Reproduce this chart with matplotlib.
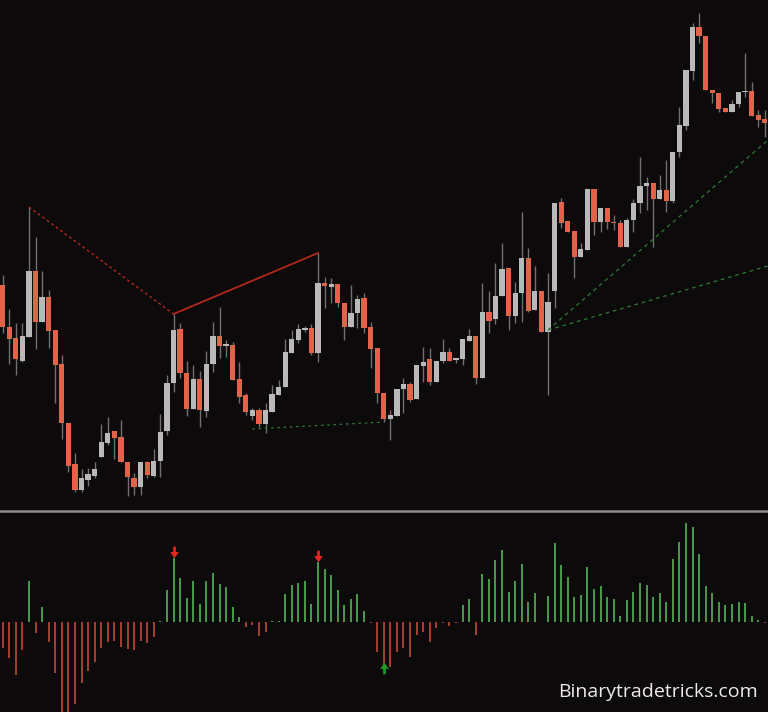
import matplotlib
matplotlib.use("Agg")
import matplotlib.pyplot as plt
from matplotlib.lines import Line2D
from matplotlib.path import Path
import numpy as np

# candle data (arbitrary price units)
opens = [235, 193, 182, 159, 183, 249, 198, 223, 190, 156, 97, 56, 30, 40, 44, 63, 77, 89, 83, 58,
         42, 33, 58, 44, 59, 89, 137, 191, 147, 111, 141, 109, 156, 184, 174, 175, 141, 125, 104, 110,
         96, 108, 125, 133, 167, 180, 190, 192, 167, 237, 233, 236, 217, 193, 207, 222, 193, 172, 127, 101,
         104, 131, 136, 121, 154, 161, 138, 159, 168, 160, 161, 179, 184, 142, 208, 201, 224, 252, 204, 227,
         262, 210, 229, 188, 229, 318, 299, 289, 263, 270, 331, 298, 312, 298, 297, 273, 300, 317, 334, 337,
         321, 330, 319, 368, 394, 449, 493, 484, 430, 427, 412, 408, 416, 428, 429, 405, 401]
highs = [245, 211, 197, 197, 313, 283, 249, 230, 190, 165, 97, 67, 51, 52, 58, 96, 103, 89, 100, 58,
         47, 58, 59, 71, 106, 145, 206, 197, 159, 155, 149, 169, 198, 213, 180, 178, 158, 127, 112, 112,
         117, 135, 140, 181, 190, 196, 194, 196, 267, 243, 242, 236, 217, 235, 225, 227, 198, 172, 127, 110,
         131, 142, 138, 155, 173, 172, 159, 181, 172, 162, 181, 191, 184, 237, 229, 257, 277, 252, 238, 308,
         272, 254, 229, 247, 317, 322, 299, 289, 277, 331, 331, 312, 312, 305, 300, 302, 321, 363, 343, 337,
         345, 360, 368, 413, 450, 497, 507, 484, 430, 427, 412, 420, 428, 467, 438, 410, 410]
lows = [187, 156, 145, 158, 183, 171, 198, 172, 117, 81, 48, 28, 28, 34, 42, 63, 75, 61, 58, 24,
        25, 25, 42, 43, 43, 85, 128, 142, 104, 111, 93, 103, 148, 162, 163, 140, 117, 105, 100, 93,
        87, 108, 125, 133, 167, 177, 188, 165, 158, 212, 217, 213, 180, 193, 192, 187, 152, 117, 98, 80,
        104, 107, 118, 121, 138, 135, 138, 157, 159, 157, 155, 179, 136, 142, 187, 196, 224, 190, 197, 198,
        208, 210, 188, 125, 212, 292, 288, 242, 263, 270, 285, 288, 291, 290, 273, 273, 288, 307, 310, 273,
        321, 308, 317, 363, 390, 440, 477, 430, 417, 408, 408, 408, 413, 423, 404, 393, 383]
closes = [193, 181, 161, 184, 249, 198, 223, 189, 155, 97, 54, 30, 42, 46, 51, 78, 87, 82, 58, 43,
          33, 58, 45, 59, 88, 137, 190, 147, 111, 141, 110, 156, 184, 174, 176, 140, 123, 108, 110, 96,
          110, 126, 133, 168, 181, 191, 192, 167, 237, 234, 236, 217, 193, 207, 221, 192, 171, 127, 101, 105,
          131, 136, 120, 155, 158, 138, 159, 168, 159, 162, 181, 184, 142, 208, 199, 224, 251, 204, 227, 262,
          209, 229, 188, 218, 317, 297, 288, 263, 271, 331, 298, 312, 298, 297, 273, 300, 317, 334, 337, 321,
          330, 319, 368, 395, 450, 493, 484, 430, 427, 411, 408, 416, 428, 429, 404, 400, 397]

# oscillator histogram (positive = green, negative = red)
osc = [-26.7, -36.7, -53.3, -28.3, 41, -11, 14.3, -20, -51.7, -96, -98, -82.3, -61, -49, -40, -26, -20, -19.3, -25, -27.7,
       -28.3, -19, -21.7, -15.7, 0.5, 31.7, 63.3, 43.3, 24, 40.3, 17.7, 41, 48.3, 37.7, 34.3, 15, 5, -5.7, -3.3, -14.3,
       -10, 0.5, 0.5, 27.7, 36.7, 39, 40.7, 17.3, 60, 52.3, 46.7, 31.7, 16.7, 23, 27.7, 10.7, -1.7, -30, -46.7, -45,
       -30, -26.7, -35.7, -13.3, -10, -20, -6.7, -1.7, -4.3, -1.7, 16.7, 22.3, -13.3, 47.7, 42.7, 61.7, 71.7, 30, 40.7, 57.7,
       19.3, 29, -0.7, 25.7, 78.3, 56.7, 44.3, 25, 26.7, 55, 32.3, 35.7, 25, 22.7, 6, 21.7, 30, 38.3, 36.7, 24.3,
       29, 20, 62.7, 80, 99, 95, 67.7, 35.7, 29, 20, 16.7, 17.7, 20, 18.3, 6, 1.7, -1]

sell_arrows = [26, 48]
sell_levels = [68.7, 64.7]
buy_arrows = [58]
buy_levels = [-45.3]

# trend lines: (start idx, start price, end idx, end price)
red_dash = (4, 313, 26, 206)
red_solid = (26, 206, 48, 267)
green_dot = (38, 91, 58, 98)
green_fan = [(83, 190, 116.5, 380), (83, 190, 116.5, 254)]

bg = "#0c0a0a"
up_col = "#b9b9b9"
dn_col = "#e1644a"
wick_col = "#707070"

fig = plt.figure(figsize=(7.68, 7.12), dpi=100, facecolor=bg)
ax = fig.add_axes([0, 1 - 508 / 712, 1, 508 / 712])
ax2 = fig.add_axes([0, 0, 1, 199 / 712])

x = np.arange(len(opens))
o = np.array(opens, float)
c = np.array(closes, float)
h = np.array(highs, float)
l = np.array(lows, float)
up = c >= o
cols = np.where(up, up_col, dn_col)

ax.vlines(x, l, h, color=wick_col, linewidth=1, zorder=1)
body_bot = np.minimum(o, c)
body_h = np.maximum(np.abs(c - o), 1.5)
ax.bar(x, body_h, bottom=body_bot, width=0.8, color=cols, linewidth=0, zorder=2)

def seg(a, style, col, lw):
    ax.plot([a[0], a[2]], [a[1], a[3]], linestyle=style, color=col, linewidth=lw, zorder=3)

seg(red_dash, (0, (2, 2)), "#b3281c", 1.0)
seg(red_solid, "-", "#b3281c", 1.3)
seg(green_dot, (0, (2, 3)), "#2d7a35", 0.9)
for f in green_fan:
    seg(f, (0, (3, 3)), "#2d7a35", 0.9)

xmin = -2.7 / 6.57
ax.set_xlim(xmin, xmin + 768 / 6.57)
ax.set_ylim(12, 520)

# histogram
v = np.array(osc)
hcols = np.where(v >= 0, "#4a9a4a", "#a6402e")
ax2.vlines(x, 0, v, color=hcols, linewidth=1.4)

arrow_dn = Path([(-0.2, 1), (0.2, 1), (0.2, 0.2), (0.65, 0.2), (0, -0.7), (-0.65, 0.2), (-0.2, 0.2), (-0.2, 1)],
                [1, 2, 2, 2, 2, 2, 2, 79])
arrow_up = Path([(-0.2, -1), (0.2, -1), (0.2, -0.2), (0.65, -0.2), (0, 0.7), (-0.65, -0.2), (-0.2, -0.2), (-0.2, -1)],
                [1, 2, 2, 2, 2, 2, 2, 79])
ax2.scatter(sell_arrows, sell_levels, marker=arrow_dn, s=95, color="#e8261c", linewidths=0, zorder=3)
ax2.scatter(buy_arrows, buy_levels, marker=arrow_up, s=95, color="#1f9a2a", linewidths=0, zorder=3)

ax2.set_xlim(xmin, xmin + 768 / 6.57)
ax2.set_ylim(-90.3, 108.7)

for a in (ax, ax2):
    a.set_facecolor(bg)
    a.set_xticks([])
    a.set_yticks([])
    for s in a.spines.values():
        s.set_visible(False)

fig.add_artist(Line2D([0, 1], [1 - 511 / 712] * 2, color="#8c8c8c", linewidth=1.8))

fig.text(0.987, 0.021, "Binarytradetricks.com", color="#ececec", fontsize=14,
         family="Open Sans", ha="right", va="baseline")

fig.savefig("out.png", dpi=100, facecolor=bg)
